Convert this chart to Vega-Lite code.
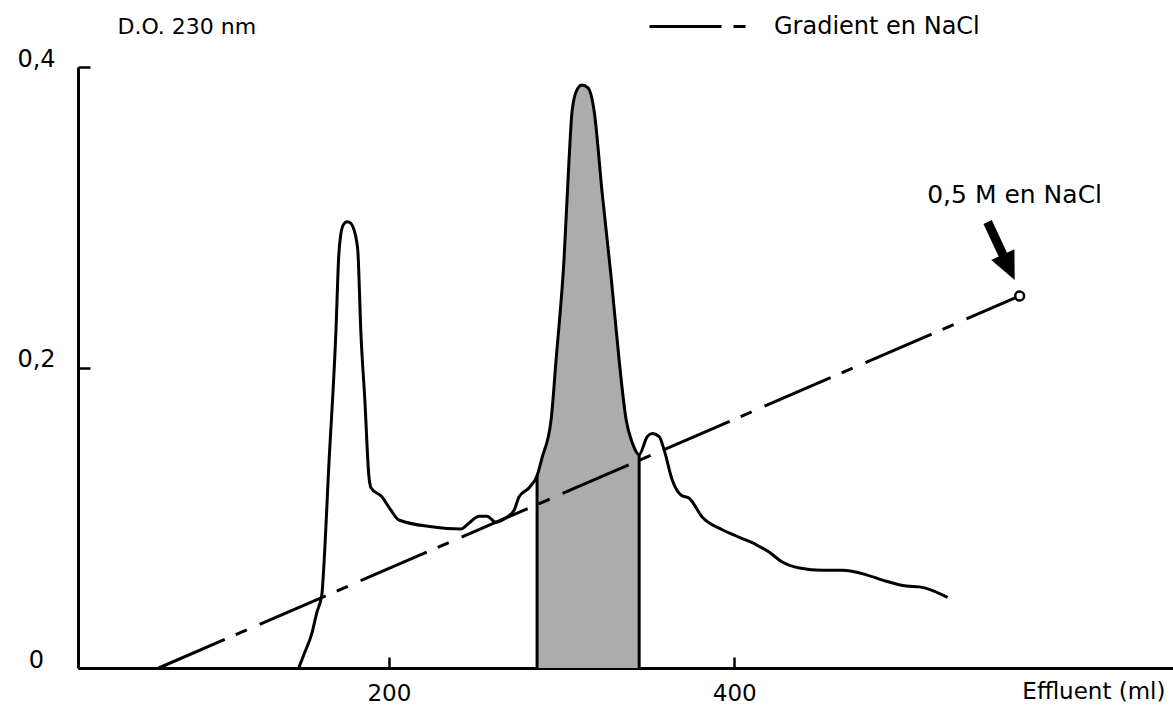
{
  "$schema": "https://vega.github.io/schema/vega-lite/v6.json",
  "width": 1095,
  "height": 601,
  "autosize": {"type": "none"},
  "padding": {"left": 78, "top": 67, "right": 0, "bottom": 39},
  "background": "white",
  "config": {
    "view": {"stroke": null},
    "font": "DejaVu Sans",
    "axis": {
      "domainColor": "black",
      "domainWidth": 3,
      "tickColor": "black",
      "tickWidth": 2.5,
      "labelColor": "black",
      "titleColor": "black",
      "grid": false,
      "labelFont": "DejaVu Sans",
      "titleFont": "DejaVu Sans",
      "titleFontWeight": "normal"
    }
  },
  "datasets": {
    "absorbance": [
      {"effluent": 147.8, "od": 0},
      {"effluent": 150.7, "od": 0.0087},
      {"effluent": 155.4, "od": 0.023},
      {"effluent": 158.3, "od": 0.037},
      {"effluent": 161.2, "od": 0.049},
      {"effluent": 162.3, "od": 0.067},
      {"effluent": 165.2, "od": 0.134},
      {"effluent": 169.3, "od": 0.223},
      {"effluent": 171.0, "od": 0.275},
      {"effluent": 172.2, "od": 0.289},
      {"effluent": 173.9, "od": 0.2955},
      {"effluent": 175.7, "od": 0.297},
      {"effluent": 177.4, "od": 0.2965},
      {"effluent": 179.7, "od": 0.292},
      {"effluent": 181.4, "od": 0.2835},
      {"effluent": 182.0, "od": 0.278},
      {"effluent": 183.8, "od": 0.223},
      {"effluent": 186.1, "od": 0.178},
      {"effluent": 188.4, "od": 0.128},
      {"effluent": 189.6, "od": 0.120},
      {"effluent": 195.9, "od": 0.114},
      {"effluent": 201.2, "od": 0.105},
      {"effluent": 205.8, "od": 0.0985},
      {"effluent": 224.9, "od": 0.094},
      {"effluent": 241.7, "od": 0.0925},
      {"effluent": 246.4, "od": 0.0965},
      {"effluent": 252.2, "od": 0.101},
      {"effluent": 256.8, "od": 0.101},
      {"effluent": 262.0, "od": 0.097},
      {"effluent": 267.8, "od": 0.100},
      {"effluent": 272.5, "od": 0.105},
      {"effluent": 275.4, "od": 0.114},
      {"effluent": 281.2, "od": 0.120},
      {"effluent": 285.8, "od": 0.128},
      {"effluent": 288.7, "od": 0.140},
      {"effluent": 293.9, "od": 0.165},
      {"effluent": 296.8, "od": 0.205},
      {"effluent": 301.4, "od": 0.272},
      {"effluent": 304.3, "od": 0.338},
      {"effluent": 306.1, "od": 0.371},
      {"effluent": 309.0, "od": 0.385},
      {"effluent": 311.9, "od": 0.388},
      {"effluent": 315.4, "od": 0.386},
      {"effluent": 318.8, "od": 0.371},
      {"effluent": 323.5, "od": 0.316},
      {"effluent": 328.7, "od": 0.260},
      {"effluent": 333.3, "od": 0.205},
      {"effluent": 337.4, "od": 0.165},
      {"effluent": 340.9, "od": 0.150},
      {"effluent": 344.9, "od": 0.142},
      {"effluent": 349.6, "od": 0.154},
      {"effluent": 352.5, "od": 0.156},
      {"effluent": 356.5, "od": 0.154},
      {"effluent": 359.4, "od": 0.145},
      {"effluent": 364.1, "od": 0.125},
      {"effluent": 369.3, "od": 0.115},
      {"effluent": 373.9, "od": 0.113},
      {"effluent": 381.4, "od": 0.1005},
      {"effluent": 393.0, "od": 0.092},
      {"effluent": 402.9, "od": 0.087},
      {"effluent": 412.8, "od": 0.082},
      {"effluent": 420.3, "od": 0.077},
      {"effluent": 427.8, "od": 0.0705},
      {"effluent": 437.7, "od": 0.0665},
      {"effluent": 451.0, "od": 0.065},
      {"effluent": 462.6, "od": 0.065},
      {"effluent": 476.5, "od": 0.062},
      {"effluent": 485.8, "od": 0.0585},
      {"effluent": 499.7, "od": 0.0545},
      {"effluent": 507.2, "od": 0.054},
      {"effluent": 523.5, "od": 0.047}
    ],
    "gradient": [
      {"effluent": 66.7, "od": 0, "serie": "Gradient en NaCl"},
      {"effluent": 565.2, "od": 0.2476, "serie": "Gradient en NaCl"}
    ],
    "edges": [
      {"effluent": 285.8, "od": 0.128},
      {"effluent": 344.9, "od": 0.142}
    ],
    "endpoint": [{"effluent": 565.2, "od": 0.2476}],
    "arrow": [{"effluent": 554.5, "od": 0.2775}],
    "note": [{"effluent": 562.3, "od": 0.3095, "text": "0,5 M en NaCl"}]
  },
  "encoding": {
    "x": {
      "field": "effluent",
      "type": "quantitative",
      "scale": {"domain": [20, 654], "nice": false, "zero": false},
      "axis": {
        "values": [200, 400],
        "title": "Effluent (ml)",
        "titleX": 1087,
        "titleY": 30,
        "titleAlign": "right",
        "titleBaseline": "alphabetic",
        "titleFontSize": 23,
        "labelFontSize": 23,
        "tickSize": -11,
        "labelPadding": 25
      }
    },
    "y": {
      "field": "od",
      "type": "quantitative",
      "scale": {"domain": [0, 0.4], "nice": false, "zero": false},
      "axis": {
        "values": [0, 0.2, 0.4],
        "labelExpr": "datum.value == 0 ? '0' : replace(format(datum.value, '.1f'), '.', ',')",
        "title": "D.O. 230 nm",
        "titleAngle": 0,
        "titleX": 39,
        "titleY": -34,
        "titleAlign": "left",
        "titleBaseline": "alphabetic",
        "titleFontSize": 22,
        "labelFontSize": 24,
        "labelAlign": "center",
        "labelBaseline": "alphabetic",
        "labelOffset": -1,
        "tickSize": -12,
        "labelPadding": 54
      }
    }
  },
  "layer": [
    {
      "data": {"name": "absorbance"},
      "transform": [{"filter": "datum.effluent >= 285.8 && datum.effluent <= 344.9"}],
      "mark": {"type": "area", "color": "#acacac", "interpolate": "monotone"}
    },
    {
      "data": {"name": "gradient"},
      "mark": {"type": "line", "color": "black", "strokeWidth": 3},
      "encoding": {
        "strokeDash": {
          "field": "serie",
          "type": "nominal",
          "scale": {"domain": ["Gradient en NaCl"], "range": [[72, 12, 12, 14]]},
          "legend": {
            "title": null,
            "orient": "none",
            "legendX": 570,
            "legendY": -95,
            "symbolType": "stroke",
            "symbolSize": 11236,
            "symbolStrokeWidth": 3,
            "symbolStrokeColor": "black",
            "labelFontSize": 24,
            "labelFont": "DejaVu Sans",
            "labelColor": "black",
            "labelOffset": 17,
            "labelLimit": 400,
            "encode": {"symbols": {"update": {"strokeDash": {"value": [72, 26, 8, 60]}, "stroke": {"value": "black"}}}}
          }
        }
      }
    },
    {
      "data": {"name": "absorbance"},
      "mark": {"type": "line", "color": "black", "strokeWidth": 3, "interpolate": "monotone"}
    },
    {
      "data": {"name": "edges"},
      "mark": {"type": "rule", "color": "black", "strokeWidth": 3},
      "encoding": {"y2": {"datum": 0}}
    },
    {
      "data": {"name": "endpoint"},
      "mark": {"type": "point", "shape": "circle", "filled": true, "fill": "white", "stroke": "black", "strokeWidth": 2.5, "size": 80, "opacity": 1}
    },
    {
      "data": {"name": "arrow"},
      "mark": {"type": "point", "shape": "arrow", "filled": true, "color": "black", "size": 4096, "angle": 155, "opacity": 1}
    },
    {
      "data": {"name": "note"},
      "mark": {"type": "text", "fontSize": 25, "font": "DejaVu Sans", "align": "center", "baseline": "alphabetic", "color": "black"},
      "encoding": {"text": {"field": "text"}}
    }
  ]
}
